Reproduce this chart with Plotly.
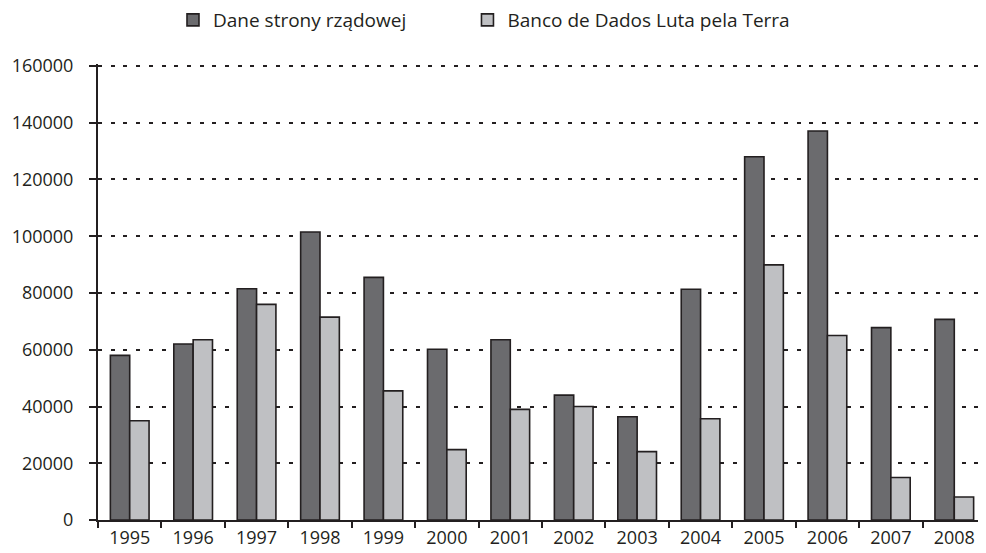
import plotly.graph_objects as go

years = ["1995","1996","1997","1998","1999","2000","2001","2002","2003","2004","2005","2006","2007","2008"]
dane_rzadowe = [58000, 62000, 81500, 101500, 85500, 60200, 63500, 44000, 36400, 81300, 128000, 137100, 67800, 70700]
banco_dados = [35000, 63500, 76000, 71500, 45500, 24800, 39000, 40000, 24100, 35700, 89900, 65000, 15000, 8100]
y_ticks = [0, 20000, 40000, 60000, 80000, 100000, 120000, 140000, 160000]
y_tick_labels = ["0", "20000", "40000", "60000", "80000", "100000", "120000", "140000", "160000"]

ink = "#231f20"
font = dict(family="Open Sans", size=18, color=ink)
legend_font = dict(family="Open Sans", size=19, color=ink)

fig = go.Figure()
fig.add_trace(go.Bar(x=years, y=dane_rzadowe, name="Dane strony rządowej", legend="legend",
                     marker=dict(color="#6b6b6e", line=dict(color=ink, width=1.6))))
fig.add_trace(go.Bar(x=years, y=banco_dados, name="Banco de Dados Luta pela Terra", legend="legend2",
                     marker=dict(color="#bfc0c3", line=dict(color=ink, width=1.6))))

# page body adds an 8px offset, so the figure is sized 8px smaller
fig.update_layout(
    width=978, height=545,
    margin=dict(l=90, r=0, t=56, b=33),
    paper_bgcolor="white", plot_bgcolor="white",
    barmode="group", bargap=0.39, bargroupgap=0,
    font=font,
    showlegend=True,
    legend=dict(orientation="h", xref="container", x=0.1687, xanchor="left",
                yref="container", y=0.978, yanchor="middle", font=legend_font),
    legend2=dict(orientation="h", xref="container", x=0.4698, xanchor="left",
                 yref="container", y=0.978, yanchor="middle", font=legend_font),
)
fig.update_xaxes(type="category", showline=True, linecolor=ink, linewidth=2,
                 ticks="outside", tickson="boundaries", ticklen=6, tickwidth=2, tickcolor=ink,
                 showgrid=False, tickfont=font)
fig.update_yaxes(range=[0, 160700], tickvals=y_ticks, ticktext=y_tick_labels,
                 showline=True, linecolor=ink, linewidth=2,
                 ticks="outside", ticklen=7, tickwidth=2, tickcolor=ink,
                 showgrid=True, gridcolor=ink, gridwidth=2, griddash="4px,8.7px",
                 zeroline=False, tickfont=font, ticklabelstandoff=12)

fig.write_html("out.html")
